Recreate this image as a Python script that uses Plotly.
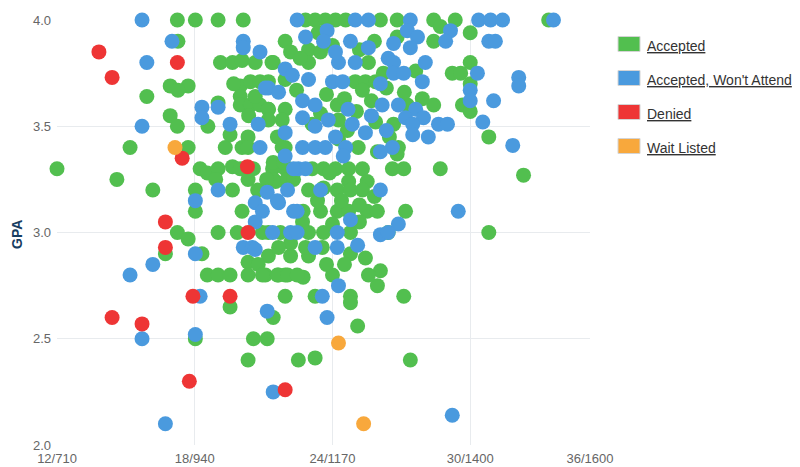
import plotly.graph_objects as go

# ---------------- data (SAT-scale x, GPA y) ----------------
acc_sat = [710, 810, 870, 832, 860, 899, 929, 912, 899, 911, 912, 911, 941, 979, 1021,
           983, 1003, 1019, 1041, 1071, 1091, 929, 991, 1019, 1078, 1091, 979, 962, 999,
           1029, 1029, 1016, 1033, 1049, 1063, 1016, 1016, 1033, 1049, 1063, 1041,
           1125, 1141, 1158, 1175, 1192, 1250, 1278, 1339, 1375, 1531, 1146, 1130, 1130,
           1069, 1230, 1091, 1208, 1225, 1220, 1242, 1178, 1063, 1091, 1063, 1086, 1136,
           1180, 1242, 1086, 1180, 1213, 1245, 1278, 1350, 1339, 1400, 1400, 1370, 1384,
           1309, 1400, 1339, 1387, 1400, 1295, 1431, 1280, 1272,
           1070, 1091, 1136, 1155, 1175, 1197, 1220, 1270, 1289, 1350, 1278, 1075, 1091,
           1130, 1155, 1178, 1197, 1228, 1200, 1220, 1121, 1150, 1178, 1197, 1228, 1245,
           1292, 1063, 1083, 1130, 1155, 1200, 1263, 1153, 1200, 1063, 1100, 1130, 1058,
           1080, 1091, 1121, 1170, 1245, 1250, 1091, 1141, 1200, 1289, 1200, 1489, 1431,
           949, 961, 979, 1003, 1016, 1038, 1029, 1071, 1095, 1105, 1071, 1088, 941, 941,
           1003, 1019, 911, 929, 979, 1011, 1053, 891, 952, 1029, 1046, 961, 979, 999,
           1029, 1053, 1078, 1095, 1111, 999, 1071, 941, 1038, 1061, 1029, 1113, 1141,
           1300, 1212,
           1100, 1116, 1150, 1170, 1215, 1240, 1255, 1235, 1160, 1190, 1210, 1150, 1260,
           1195, 1265, 1110, 1290, 1320, 1165, 1145, 1185, 1215, 1240, 1120, 1170, 1215,
           1100, 1125, 1080, 1190, 1160, 1225, 1230, 975, 1045, 1060, 1030, 1005]
acc_gpa = [3.30, 3.25, 3.20, 3.40, 3.64, 3.69, 3.69, 3.67, 3.55, 3.50, 3.90, 4.00, 4.00, 4.00, 4.00,
           3.80, 3.80, 3.81, 3.80, 3.80, 3.90, 3.40, 3.40, 3.40, 3.45, 3.40, 3.61, 3.50, 3.46,
           3.45, 3.40, 3.69, 3.71, 3.71, 3.71, 3.64, 3.60, 3.60, 3.60, 3.58, 3.64,
           4.00, 4.00, 4.00, 4.00, 4.00, 4.00, 4.00, 4.00, 4.00, 4.00, 3.94, 3.86, 3.80,
           3.80, 3.80, 3.72, 3.71, 3.71, 3.67, 3.71, 3.60, 3.58, 3.58, 3.53, 3.53, 3.51,
           3.53, 3.52, 3.40, 3.44, 3.40, 3.38, 3.92, 3.97, 3.90, 3.94, 3.80, 3.75, 3.75,
           3.76, 3.70, 3.60, 3.60, 3.57, 3.60, 3.45, 3.40, 3.51,
           3.30, 3.30, 3.30, 3.30, 3.30, 3.30, 3.30, 3.30, 3.30, 3.30, 3.37, 3.24, 3.24,
           3.20, 3.21, 3.20, 3.24, 3.24, 3.20, 3.20, 3.10, 3.10, 3.10, 3.10, 3.10, 3.10,
           3.10, 3.00, 3.00, 3.00, 3.00, 3.00, 3.00, 2.93, 2.90, 2.89, 2.89, 2.89, 2.80,
           2.80, 2.80, 2.79, 2.80, 2.75, 2.82, 2.70, 2.70, 2.70, 2.70, 2.67, 3.27, 3.00,
           3.30, 3.28, 3.30, 3.31, 3.30, 3.30, 3.25, 3.25, 3.25, 3.25, 3.33, 3.33, 3.20, 3.10,
           3.20, 3.10, 3.00, 2.97, 3.00, 3.00, 3.00, 2.90, 2.90, 2.86, 2.85, 2.80, 2.80, 2.80,
           2.80, 2.80, 2.80, 2.80, 2.80, 2.65, 2.60, 2.50, 2.50, 2.50, 2.40, 2.40, 2.41,
           2.40, 2.56,
           3.85, 3.82, 3.85, 3.88, 3.86, 3.90, 3.75, 3.62, 3.65, 3.63, 3.57, 3.56, 3.68,
           3.48, 3.45, 3.67, 3.66, 3.63, 3.28, 3.15, 3.15, 3.13, 3.17, 3.05, 3.04, 3.05,
           2.95, 2.93, 2.93, 2.85, 2.85, 2.88, 2.80, 3.25, 3.20, 3.25, 3.55, 3.70]

wna_sat = [852, 902, 860, 852, 832, 870, 941, 941, 852, 891, 1071, 1370, 1380, 1471, 1481,
           1481, 1439, 1421, 1431, 1442, 1539, 1414, 1434, 1454, 1300, 1111, 1208, 1230,
           1021, 1021, 1049, 1161, 1155, 1200, 1180, 1208, 1091, 1103, 1170, 1187, 1263,
           1063, 1080, 1120, 1141, 1253, 1120, 1141, 1163, 1203, 1225, 1091, 1120, 1141,
           1158, 1192, 1270, 952, 952, 979, 999, 1046, 1049, 1058, 1295, 1312, 1300, 1367,
           1359, 1272, 1272, 1272, 1412, 1289, 1320, 1400, 1400, 1309, 1322, 1292, 1304,
           1304, 1347, 1362, 1091, 1188, 1250, 1113, 1125, 1150, 1250, 1080, 1111, 1200,
           1280, 1070, 1100, 1111, 1178, 1250, 1263, 1141, 1178, 1212, 1180, 1153, 1161,
           1061, 979, 1061, 1078, 1095, 1105, 1041, 1053, 1041, 1021, 1036, 1041, 941, 949,
           1105,
           1125, 1175, 1230, 1250, 1196, 1235, 1130, 1280, 1325, 1260, 1175, 1330]
wna_gpa = [4.00, 3.90, 3.80, 3.50, 2.80, 2.85, 3.15, 2.52, 2.50, 2.10, 2.25, 2.14, 3.10, 3.41, 3.73,
           3.69, 3.62, 3.52, 3.90, 3.90, 4.00, 4.00, 4.00, 4.00, 4.00, 4.00, 4.00, 4.00,
           3.90, 3.87, 3.85, 3.95, 3.90, 3.90, 3.80, 3.80, 3.77, 3.74, 3.71, 3.71, 3.82,
           3.68, 3.66, 3.62, 3.60, 3.60, 3.54, 3.50, 3.53, 3.51, 3.47, 3.47, 3.40, 3.40,
           3.40, 3.40, 3.40, 3.59, 3.54, 3.59, 3.51, 3.51, 3.40, 3.68, 3.95, 3.92, 3.87, 3.95,
           3.90, 3.89, 3.80, 3.75, 3.75, 3.75, 3.71, 3.67, 3.62, 3.58, 3.54, 3.54, 3.51,
           3.46, 3.51, 3.51, 3.36, 3.36, 3.38, 3.30, 3.30, 3.20, 3.20, 3.14, 3.10, 3.06,
           3.04, 3.00, 3.00, 3.00, 3.00, 2.99, 3.00, 2.93, 2.93, 2.94, 2.75, 2.70, 2.60,
           2.63, 3.20, 3.19, 3.15, 3.20, 3.10, 3.14, 3.10, 3.05, 2.93, 2.93, 2.92, 2.90, 2.70,
           3.30,
           3.92, 3.85, 3.87, 3.70, 3.58, 3.55, 3.72, 3.60, 3.80, 3.48, 3.45, 3.45]

den_sat = [780, 802, 911, 919, 891, 891, 937, 999, 1029, 1028, 802, 852, 931, 1091]
den_gpa = [3.85, 3.73, 3.80, 3.35, 3.05, 2.93, 2.70, 2.70, 3.00, 3.31, 2.60, 2.57, 2.30, 2.26]

wl_sat = [907, 1180, 1222]
wl_gpa = [3.40, 2.48, 2.10]

tick_vals = [710, 940, 1170, 1400, 1600]
tick_text = ["12/710", "18/940", "24/1170", "30/1400", "36/1600"]

series = [
    ("Accepted", acc_sat, acc_gpa, "#52bf4f"),
    ("Accepted, Won't Attend", wna_sat, wna_gpa, "#4a9ade"),
    ("Denied", den_sat, den_gpa, "#ee3535"),
    ("Wait Listed", wl_sat, wl_gpa, "#f8a83c"),
]

# ---------------- figure ----------------
W, H = 800, 467
ml, mr, mt, mb = 57, 210, 20, 22
pw, ph = W - ml - mr, H - mt - mb

fig = go.Figure()
for name, xs, ys, col in series:
    fig.add_trace(go.Scatter(
        x=xs, y=ys, mode="markers", name=name, showlegend=False,
        cliponaxis=False,
        marker=dict(size=15, color=col, line=dict(width=0)),
    ))

# manual legend (coloured swatch + underlined label)
shapes, annos = [], []
for i, (name, _, _, col) in enumerate(series):
    cy = 44 + 34 * i
    y0 = 1 - (cy - 7.5 - mt) / ph
    y1 = 1 - (cy + 7.5 - mt) / ph
    shapes.append(dict(type="rect", xref="paper", yref="paper",
                       x0=(618 - ml) / pw, x1=(640 - ml) / pw, y0=y1, y1=y0,
                       fillcolor=col, line=dict(color="#d4d4d4", width=1)))
    annos.append(dict(xref="paper", yref="paper", x=(645 - ml) / pw,
                      y=1 - (cy + 2 - mt) / ph, xanchor="left", yanchor="middle",
                      text="<u>" + name + "</u>", showarrow=False,
                      font=dict(size=14, color="#333333", family="Arial, Liberation Sans, sans-serif")))

annos.append(dict(xref="paper", yref="paper", x=(17 - ml) / pw, y=1 - (234 - mt) / ph,
                  text="<b>GPA</b>", textangle=-90, showarrow=False,
                  xanchor="center", yanchor="middle",
                  font=dict(size=14, color="#173d61", family="Arial, Liberation Sans, sans-serif")))

fig.update_layout(
    width=W, height=H,
    margin=dict(l=ml, r=mr, t=mt, b=mb, pad=0, autoexpand=False),
    paper_bgcolor="white", plot_bgcolor="white",
    shapes=shapes, annotations=annos,
    font=dict(family="Arial, Liberation Sans, sans-serif"),
    xaxis=dict(range=[710, 1600], tickvals=tick_vals, ticktext=tick_text,
               automargin=False,
               showgrid=True, gridcolor="#e8ebee", gridwidth=1, zeroline=False,
               showline=False, ticks="", ticklabelstandoff=4,
               tickfont=dict(size=13, color="#666666")),
    yaxis=dict(range=[2.0, 4.0], tickvals=[2.0, 2.5, 3.0, 3.5, 4.0],
               ticktext=["2.0", "2.5", "3.0", "3.5", "4.0"],
               automargin=False,
               showgrid=True, gridcolor="#e8ebee", gridwidth=1, zeroline=False,
               showline=False, ticks="", ticklabelstandoff=5,
               tickfont=dict(size=13, color="#666666")),
    hovermode="closest",
)

fig.write_html("out.html")
